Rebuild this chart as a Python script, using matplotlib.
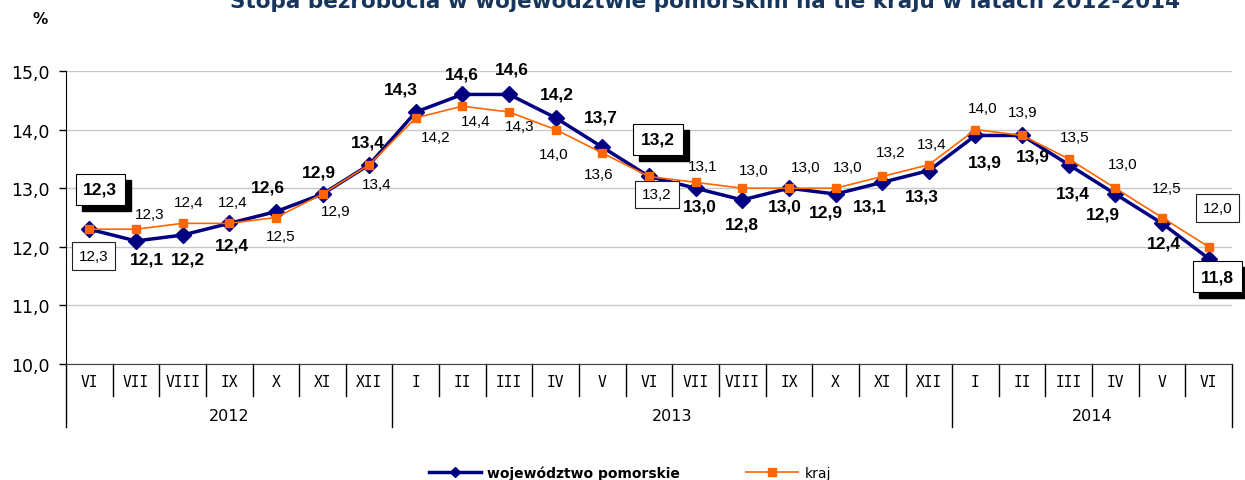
import matplotlib
matplotlib.use('Agg')
import matplotlib.pyplot as plt
from matplotlib.lines import Line2D
import matplotlib.transforms as mtransforms

# dane
months = ['VI', 'VII', 'VIII', 'IX', 'X', 'XI', 'XII',
          'I', 'II', 'III', 'IV', 'V', 'VI', 'VII', 'VIII', 'IX', 'X', 'XI', 'XII',
          'I', 'II', 'III', 'IV', 'V', 'VI']
years = ['2012', '2013', '2014']
year_len = [7, 12, 6]

pomorskie = [12.3, 12.1, 12.2, 12.4, 12.6, 12.9, 13.4,
             14.3, 14.6, 14.6, 14.2, 13.7, 13.2, 13.0, 12.8, 13.0, 12.9, 13.1, 13.3,
             13.9, 13.9, 13.4, 12.9, 12.4, 11.8]
kraj = [12.3, 12.3, 12.4, 12.4, 12.5, 12.9, 13.4,
        14.2, 14.4, 14.3, 14.0, 13.6, 13.2, 13.1, 13.0, 13.0, 13.0, 13.2, 13.4,
        14.0, 13.9, 13.5, 13.0, 12.5, 12.0]

# położenie etykiet (przesunięcie w pikselach)
pom_off = [(11, 40), (11, -18), (5, -24), (3, -22), (-8, 25), (-4, 22), (-1, 23),
           (-15, 23), (-1, 20), (3, 25), (1, 24), (-2, 30), (9, 37), (4, -18),
           (0, -24), (-4, -18), (-10, -18), (-12, -24), (-7, -25), (9, -27),
           (11, -21), (4, -28), (-13, -20), (2, -20), (9, -18)]
kraj_off = [(4, -27), (14, 15), (6, 21), (3, 21), (5, -19), (13, -17), (8, -19),
            (20, -19), (13, -15), (11, -14), (-2, -24), (-4, -21), (8, -18), (7, 16),
            (11, 18), (17, 21), (12, 21), (8, 24), (3, 21), (7, 22), (1, 23),
            (6, 22), (7, 24), (5, 29), (9, 39)]
boxed = [0, 12, 24]


def fmt(v):
    return f'{v:.1f}'.replace('.', ',')


fig = plt.figure(figsize=(12.45, 4.81), dpi=100)
W, H = 1245, 481
ax = fig.add_axes([66 / W, (H - 365) / H, (1232 - 66) / W, (365 - 72) / H])

x = list(range(len(months)))
ax.plot(x, kraj, color='#FF6600', lw=1.2, marker='s', ms=6, zorder=4)
ax.plot(x, pomorskie, color='#000080', lw=2.5, marker='D', ms=8.5, zorder=3)

ax.set_xlim(-0.5, len(months) - 0.5)
ax.set_ylim(10, 15)
ax.set_yticks([10, 11, 12, 13, 14, 15])
ax.set_yticklabels([fmt(v) for v in [10, 11, 12, 13, 14, 15]], fontsize=12.5,
                   family='DejaVu Sans')
ax.tick_params(axis='y', length=5, width=1, pad=7, direction='out')
ax.set_xticks([])
ax.yaxis.grid(True, color='#C8C8C8', lw=1)
ax.set_axisbelow(True)
for s in ['top', 'right']:
    ax.spines[s].set_visible(False)
ax.spines['left'].set_color('black')
ax.spines['bottom'].set_color('#404040')

# etykiety danych
for i, v in enumerate(pomorskie):
    dx, dy = pom_off[i]
    if i in boxed:
        ax.annotate(fmt(v), (i, v), xytext=(dx + 6, dy - 6), textcoords='offset pixels',
                    ha='center', va='center', fontsize=12.5, fontweight='bold',
                    family='Liberation Sans', color='black', zorder=6,
                    bbox=dict(boxstyle='square,pad=0.45', fc='black', ec='black'))
        ax.annotate(fmt(v), (i, v), xytext=(dx, dy), textcoords='offset pixels',
                    ha='center', va='center', fontsize=12.5, fontweight='bold',
                    family='Liberation Sans', zorder=7,
                    bbox=dict(boxstyle='square,pad=0.45', fc='white', ec='black', lw=0.8))
    else:
        ax.annotate(fmt(v), (i, v), xytext=(dx, dy), textcoords='offset pixels',
                    ha='center', va='center', fontsize=12.5, fontweight='bold',
                    family='Liberation Sans', zorder=7)

for i, v in enumerate(kraj):
    dx, dy = kraj_off[i]
    bb = None
    if i in boxed:
        bb = dict(boxstyle='square,pad=0.45', fc='white', ec='#202020', lw=0.8)
    ax.annotate(fmt(v), (i, v), xytext=(dx, dy), textcoords='offset pixels',
                ha='center', va='center', fontsize=11, family='Liberation Sans',
                zorder=7, bbox=bb)

# oś kategorii: miesiące i lata
trans = mtransforms.blended_transform_factory(ax.transData, ax.transAxes)
ah = 365 - 72
year_edges = [-0.5]
for n in year_len:
    year_edges.append(year_edges[-1] + n)
for k in range(len(months) + 1):
    xe = k - 0.5
    depth = 63 if xe in year_edges else 32
    ax.add_line(Line2D([xe, xe], [0, -depth / ah], transform=trans, color='black',
                       lw=1, clip_on=False))
for i, m in enumerate(months):
    ax.text(i, -18 / ah, m, transform=trans, ha='center', va='center',
            fontsize=10.5, family='DejaVu Sans Mono')
for j, yname in enumerate(years):
    xc = (year_edges[j] + year_edges[j + 1]) / 2
    ax.text(xc, -52 / ah, yname, transform=trans, ha='center', va='center',
            fontsize=11.5, family='DejaVu Sans')

# tytuł i jednostka
fig.text(705 / W, 1 - 8 / H, 'Stopa bezrobocia w województwie pomorskim na tle kraju w latach 2012-2014',
         ha='center', va='baseline', fontsize=15.5, fontweight='bold', color='#17365D',
         family='DejaVu Sans')
fig.text(40 / W, 1 - 20 / H, '%', ha='center', va='center', fontsize=11,
         fontweight='bold', family='DejaVu Sans')

# legenda
h1 = Line2D([], [], color='#000080', lw=2.5, marker='D', ms=5)
h2 = Line2D([], [], color='#FF6600', lw=1.2, marker='s', ms=6)
leg = fig.legend([h1, h2], ['województwo pomorskie', 'kraj'], loc='center',
                 bbox_to_anchor=(630 / W, 1 - 474 / H), ncol=2, frameon=False,
                 fontsize=10, handlelength=3.75, handletextpad=0.45,
                 columnspacing=4.75, borderpad=0, borderaxespad=0)
leg.get_texts()[0].set_fontweight('bold')

fig.savefig('out.png', dpi=100)
